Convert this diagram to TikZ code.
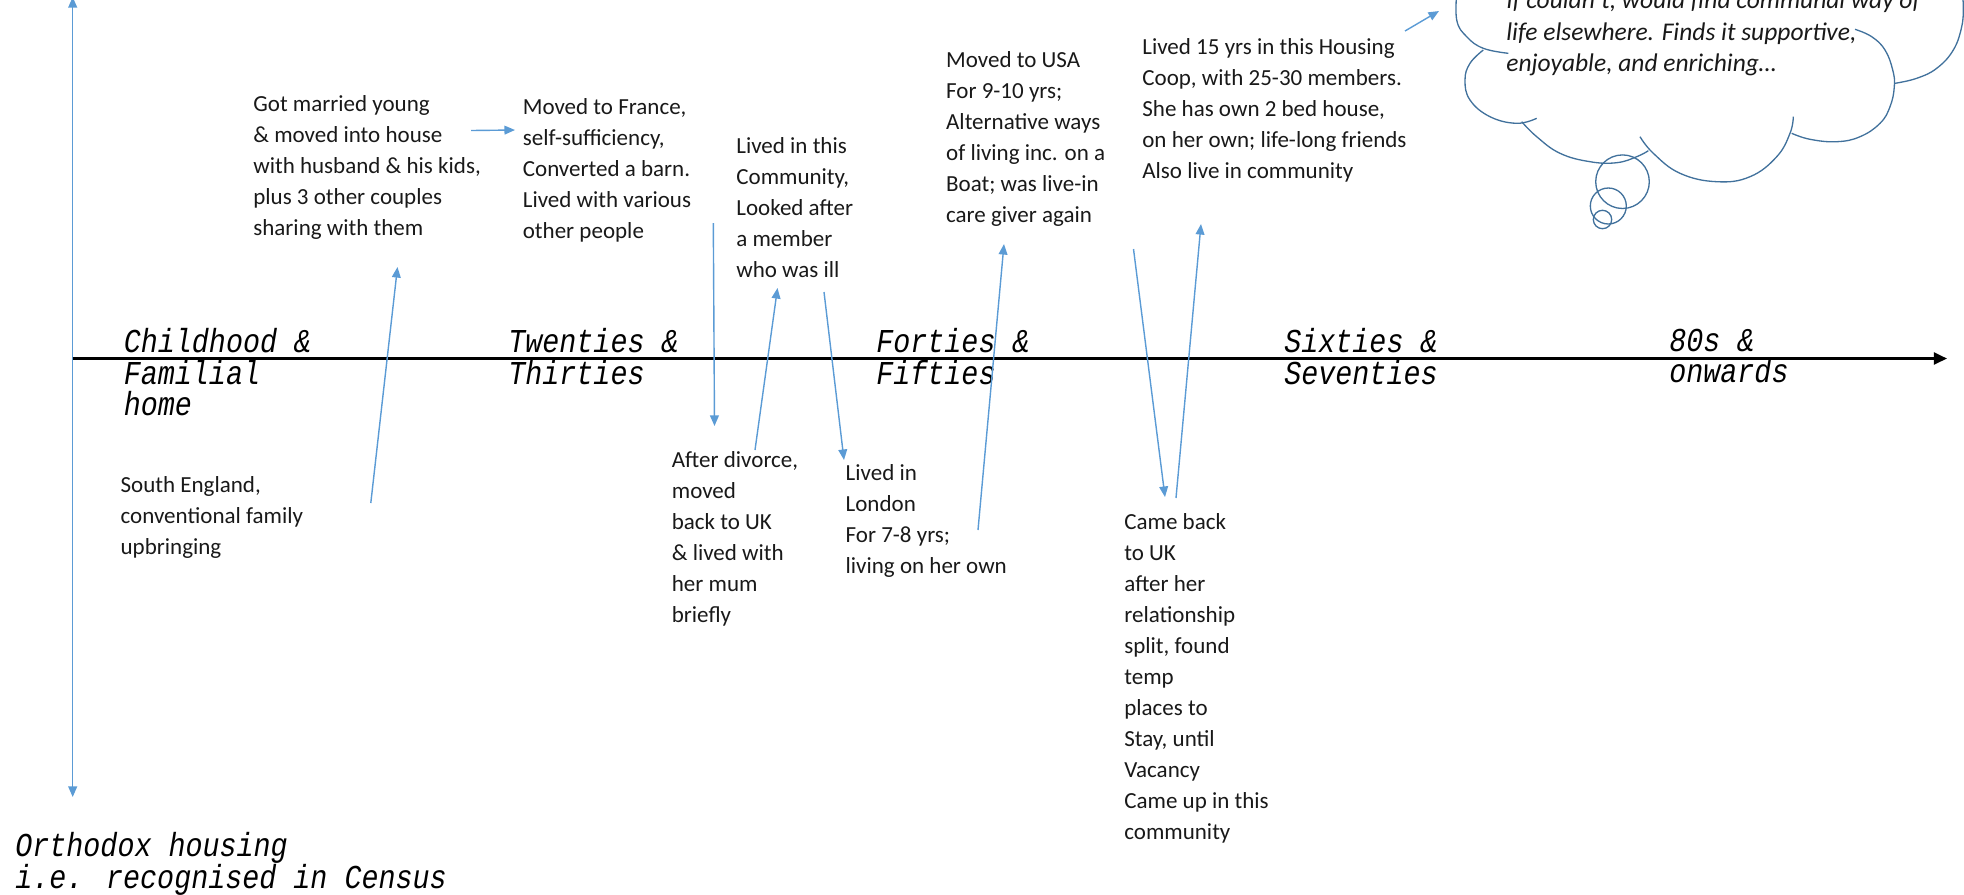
\documentclass[tikz,border=0pt]{standalone}
\usepackage{fontspec}
\setmainfont{Carlito}
\newfontfamily\periodfont[FakeStretch=0.85]{Liberation Mono}
\usetikzlibrary{arrows.meta}
\definecolor{linkblue}{RGB}{91,155,213}
\definecolor{cloudblue}{RGB}{65,113,156}
\definecolor{ink}{RGB}{25,25,25}

\begin{document}
\begin{tikzpicture}[x=0.02cm, y=-0.02cm,
  story/.style={anchor=north west, inner sep=0pt, align=left, text=ink,
    font=\fontsize{13.1}{17.64}\selectfont, execute at begin node=\strut},
  musing/.style={story, font=\itshape\fontsize{14.5}{17.9}\selectfont},
  period/.style={anchor=north west, inner sep=0pt, align=left, text=black,
    font=\periodfont\itshape\fontsize{19}{17.9}\selectfont, execute at begin node=\strut},
  link/.style={draw=linkblue, line width=0.8pt, -{Triangle[length=6pt,width=5pt]}},
  spine/.style={draw=black, line width=1.5pt, -{Triangle[length=7.5pt,width=6.8pt]}},
  cloudline/.style={draw=cloudblue, line width=0.75pt}
]
\useasboundingbox (0,0) rectangle (1964,894);

% housing axis (vertical) and life-stage timeline (horizontal)
\coordinate (htop) at (72.7,-3);
\coordinate (hbot) at (72.7,797);
\draw[draw=linkblue, line width=0.8pt, {Triangle[length=6pt,width=5pt]}-{Triangle[length=6pt,width=5pt]}] (hbot) -- (htop);
\coordinate (tstart) at (72.7,358.5);
\coordinate (tend) at (1947,358.5);
\draw[spine] (tstart) -- (tend);

% life stages
\node[period] (childhood) at (123.5,328.4) {Childhood \&\\Familial\\home};
\node[period] (twenties)  at (508,328.4)   {Twenties \&\\Thirties};
\node[period] (forties)   at (876,328.4)   {Forties \&\\Fifties};
\node[period] (sixties)   at (1284,328.4)  {Sixties \&\\Seventies};
\node[period] (eighties)  at (1669,328.4)  {80s \&\\onwards};
\node[period] (orthodox)  at (15,832.4)    {Orthodox housing\\i.e. recognised in Census};

% episodes above the line
\node[story] (married) at (253,95.5) {Got married young\\\& moved into house\\with husband \& his kids,\\plus 3 other couples\\sharing with them};
\node[story] (france) at (522.5,98) {Moved to France,\\self-sufficiency,\\Converted a barn.\\Lived with various\\other people};
\node[story] (commune) at (736,137) {Lived in this\\Community,\\Looked after\\a member\\who was ill};
\node[story] (usa) at (945.8,51.3) {Moved to USA\\For 9-10 yrs;\\Alternative ways\\of living inc. on a\\Boat; was live-in\\care giver again};
\node[story] (coop) at (1142,38.5) {Lived 15 yrs in this Housing\\Coop, with 25-30 members.\\She has own 2 bed house,\\on her own; life-long friends\\Also live in community};

% episodes below the line
\node[story] (south) at (120.3,476) {South England,\\conventional family\\upbringing};
\node[story] (divorce) at (671.5,451.2) {After divorce,\\moved\\back to UK\\\& lived with\\her mum\\briefly};
\node[story] (london) at (845.3,464) {Lived in\\London\\For 7-8 yrs;\\living on her own};
\node[story] (return) at (1124,513) {Came back\\to UK\\after her\\relationship\\split, found\\temp\\places to\\Stay, until\\Vacancy\\Came up in this\\community};

% thought cloud
\draw[cloudline] plot[smooth, tension=0.7] coordinates {(1457,-10) (1456.7,20) (1466.7,36.7) (1483.3,48.3) (1508.3,53.3)};
\draw[cloudline] plot[smooth, tension=0.7] coordinates {(1483.3,50) (1470,63.3) (1465,80) (1470,100) (1490,116.7) (1516.7,123.3) (1536.7,118.3)};
\draw[cloudline] plot[smooth, tension=0.7] coordinates {(1521.7,121.7) (1536.7,136.7) (1560,153.3) (1590,161.7) (1616.7,162.7) (1636.7,156.7) (1648.3,150.7)};
\draw[cloudline] plot[smooth, tension=0.7] coordinates {(1640,136.7) (1653.3,153.3) (1680,173.3) (1716.7,181.7) (1750,176.7) (1776.7,156.7) (1790,133.3) (1793.3,116.7)};
\draw[cloudline] plot[smooth, tension=0.7] coordinates {(1855,29.3) (1871.7,36.7) (1885,50) (1892.7,70) (1894.3,86.7) (1890,106.7) (1880,123.3) (1860,136.7) (1836.7,141.7) (1810,139.3) (1791.7,133.3)};
\draw[cloudline] plot[smooth, tension=0.7] coordinates {(1895,83.3) (1916.7,78.3) (1936.7,68.3) (1953.3,50) (1961.7,26.7) (1963.3,6.7) (1962.3,-5)};
\draw[cloudline] (1622.5,181.7) circle[radius=26.8];
\draw[cloudline] (1608.3,206) circle[radius=18];
\draw[cloudline] (1602.5,219.5) circle[radius=9.2];
\node[musing] (thought) at (1506,-9.2) {If couldn't, would find communal way of\\life elsewhere. Finds it supportive,\\enjoyable, and enriching…};

% moves between episodes
\coordinate (southTo) at (370.8,503);   \coordinate (marriedFrom) at (397.5,267);
\coordinate (marriedTo) at (471,130.5); \coordinate (franceFrom) at (515,130);
\coordinate (franceTo) at (713.3,223);  \coordinate (divorceFrom) at (714.5,426);
\coordinate (divorceTo) at (755,450);   \coordinate (communeFrom) at (777.5,288);
\coordinate (communeTo) at (824,292);   \coordinate (londonFrom) at (844,460);
\coordinate (londonTo) at (978,530);    \coordinate (usaFrom) at (1004,244);
\coordinate (usaTo) at (1133.5,249);    \coordinate (returnFrom) at (1165,497);
\coordinate (returnTo) at (1176,498);   \coordinate (coopFrom) at (1201,224);
\coordinate (coopTo) at (1405,31);      \coordinate (thoughtFrom) at (1439,11);

\draw[link] (southTo) -- (marriedFrom);
\draw[link] (marriedTo) -- (franceFrom);
\draw[link] (franceTo) -- (divorceFrom);
\draw[link] (divorceTo) -- (communeFrom);
\draw[link] (communeTo) -- (londonFrom);
\draw[link] (londonTo) -- (usaFrom);
\draw[link] (usaTo) -- (returnFrom);
\draw[link] (returnTo) -- (coopFrom);
\draw[link] (coopTo) -- (thoughtFrom);
\end{tikzpicture}
\end{document}
